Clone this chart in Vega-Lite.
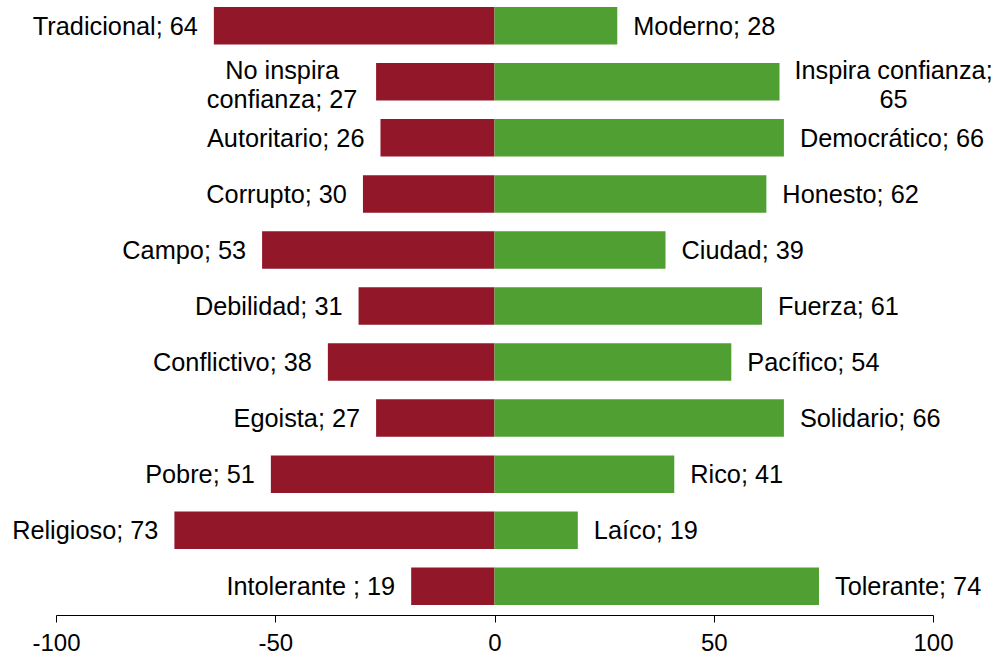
{
  "$schema": "https://vega.github.io/schema/vega-lite/v6.json",
  "width": 877,
  "height": 612,
  "autosize": {"type": "none"},
  "padding": {"left": 56, "top": 0, "right": 61, "bottom": 43},
  "background": "white",
  "config": {
    "view": {"stroke": null},
    "font": "Liberation Sans",
    "text": {"font": "Liberation Sans", "fontSize": 25.3, "color": "#000000"}
  },
  "data": {
    "values": [
      {"o": 1, "side": "L", "v": -64, "label": "Tradicional; 64"},
      {"o": 1, "side": "R", "v": 28, "label": "Moderno; 28"},
      {"o": 2, "side": "L", "v": -27, "label": "No inspira\nconfianza; 27"},
      {"o": 2, "side": "R", "v": 65, "label": "Inspira confianza;\n65"},
      {"o": 3, "side": "L", "v": -26, "label": "Autoritario; 26"},
      {"o": 3, "side": "R", "v": 66, "label": "Democrático; 66"},
      {"o": 4, "side": "L", "v": -30, "label": "Corrupto; 30"},
      {"o": 4, "side": "R", "v": 62, "label": "Honesto; 62"},
      {"o": 5, "side": "L", "v": -53, "label": "Campo; 53"},
      {"o": 5, "side": "R", "v": 39, "label": "Ciudad; 39"},
      {"o": 6, "side": "L", "v": -31, "label": "Debilidad; 31"},
      {"o": 6, "side": "R", "v": 61, "label": "Fuerza; 61"},
      {"o": 7, "side": "L", "v": -38, "label": "Conflictivo; 38"},
      {"o": 7, "side": "R", "v": 54, "label": "Pacífico; 54"},
      {"o": 8, "side": "L", "v": -27, "label": "Egoista; 27"},
      {"o": 8, "side": "R", "v": 66, "label": "Solidario; 66"},
      {"o": 9, "side": "L", "v": -51, "label": "Pobre; 51"},
      {"o": 9, "side": "R", "v": 41, "label": "Rico; 41"},
      {"o": 10, "side": "L", "v": -73, "label": "Religioso; 73"},
      {"o": 10, "side": "R", "v": 19, "label": "Laíco; 19"},
      {"o": 11, "side": "L", "v": -19, "label": "Intolerante ; 19"},
      {"o": 11, "side": "R", "v": 74, "label": "Tolerante; 74"}
    ]
  },
  "encoding": {
    "y": {
      "field": "o",
      "type": "ordinal",
      "axis": null,
      "scale": {"paddingInner": 0.331, "paddingOuter": 0.125}
    },
    "x": {
      "field": "v",
      "type": "quantitative",
      "scale": {"domain": [-100, 100], "nice": false},
      "axis": {
        "values": [-100, -50, 0, 50, 100],
        "labelExpr": "'' + datum.value",
        "grid": false,
        "title": null,
        "offset": 3,
        "tickSize": 7,
        "tickColor": "#000000",
        "domainColor": "#000000",
        "labelColor": "#000000",
        "labelFont": "Liberation Sans",
        "labelFontSize": 24,
        "labelPadding": 9,
        "labelFlush": false
      }
    }
  },
  "layer": [
    {
      "mark": {"type": "bar"},
      "encoding": {
        "x2": {"datum": 0},
        "color": {
          "field": "side",
          "type": "nominal",
          "scale": {"domain": ["L", "R"], "range": ["#921729", "#509F32"]},
          "legend": null
        }
      }
    },
    {
      "transform": [{"filter": "datum.side == 'L' && indexof(datum.label, '\\n') < 0"}],
      "mark": {"type": "text", "align": "right", "baseline": "middle", "dx": -16, "dy": 1},
      "encoding": {"text": {"field": "label"}}
    },
    {
      "transform": [{"filter": "datum.side == 'R' && indexof(datum.label, '\\n') < 0"}],
      "mark": {"type": "text", "align": "left", "baseline": "middle", "dx": 16, "dy": 1},
      "encoding": {"text": {"field": "label"}}
    },
    {
      "transform": [{"filter": "datum.side == 'L' && indexof(datum.label, '\\n') >= 0"}],
      "mark": {"type": "text", "align": "center", "baseline": "middle", "dx": -94, "dy": -11, "lineBreak": "\n", "lineHeight": 29},
      "encoding": {"text": {"field": "label"}}
    },
    {
      "transform": [{"filter": "datum.side == 'R' && indexof(datum.label, '\\n') >= 0"}],
      "mark": {"type": "text", "align": "center", "baseline": "middle", "dx": 114, "dy": -11, "lineBreak": "\n", "lineHeight": 29},
      "encoding": {"text": {"field": "label"}}
    }
  ]
}
